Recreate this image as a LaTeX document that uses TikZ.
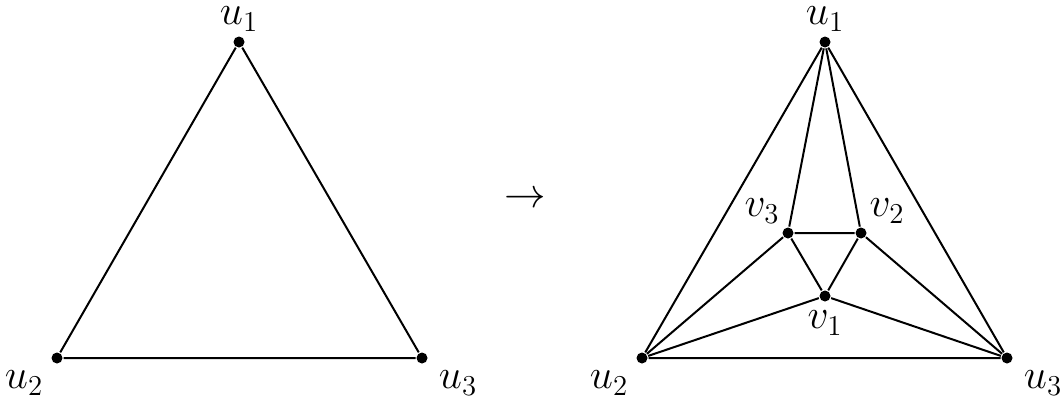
\documentclass[tikz,border=0pt]{standalone}
\begin{document}
\begin{tikzpicture}[x=0.5pt,y=-0.5pt,line width=1pt,
  dot/.style={circle,fill,inner sep=0pt,minimum size=5.5pt},
  lab/.style={font=\fontsize{20}{22}\selectfont,inner sep=1pt}]
\useasboundingbox (0,0) rectangle (1063,402);
\node[dot] (a1) at (239,42) {};
\node[dot] (a2) at (57,358) {};
\node[dot] (a3) at (422,358) {};
\draw (a1)--(a2)--(a3)--(a1);
\node[lab] (la1) at (239,19) {$u_1$};
\node[lab] (la2) at (24,383) {$u_2$};
\node[lab] (la3) at (458,383) {$u_3$};
\node[lab] (arr) at (525,200) {$\to$};
\node[dot] (b1) at (825,42) {};
\node[dot] (b2) at (642,358) {};
\node[dot] (b3) at (1007,358) {};
\node[dot] (c3) at (788,233) {};
\node[dot] (c2) at (861,233) {};
\node[dot] (c1) at (825,296) {};
\draw (b1)--(b2)--(b3)--(b1);
\draw (b1)--(c3) (b1)--(c2) (c3)--(c2)--(c1)--(c3);
\draw (c3)--(b2) (c1)--(b2) (c1)--(b3) (c2)--(b3);
\node[lab] (lb1) at (825,19) {$u_1$};
\node[lab] (lb2) at (609,383) {$u_2$};
\node[lab] (lb3) at (1043,383) {$u_3$};
\node[lab] (lc3) at (762,211) {$v_3$};
\node[lab] (lc2) at (887,211) {$v_2$};
\node[lab] (lc1) at (825,323) {$v_1$};
\end{tikzpicture}
\end{document}
